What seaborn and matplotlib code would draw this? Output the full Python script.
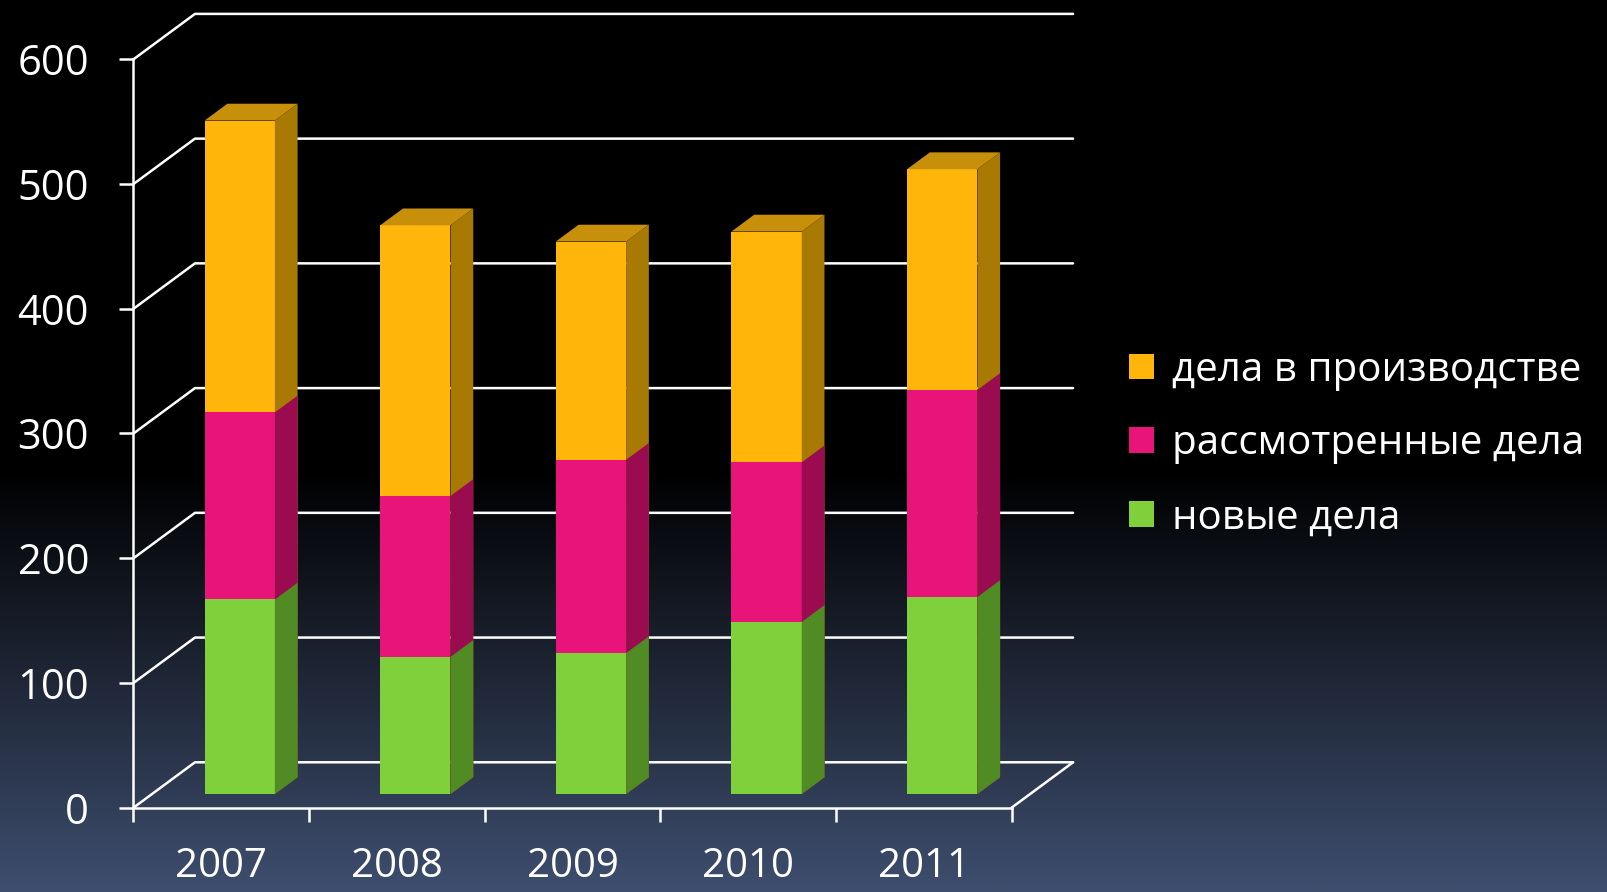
import numpy as np
import pandas as pd
import matplotlib.pyplot as plt
import seaborn as sns
from matplotlib.patches import Polygon, Patch

# Data
years = ["2007", "2008", "2009", "2010", "2011"]
new_cases = [156, 110, 113, 138, 158]
reviewed_cases = [150, 129, 155, 128, 166]
pending_cases = [234, 217, 175, 185, 177]
series_names = ["новые дела", "рассмотренные дела", "дела в производстве"]
y_ticks = [0, 100, 200, 300, 400, 500, 600]

front_colors = ["#7FD03A", "#E9147A", "#FFB50A"]
side_colors = ["#508B24", "#9A0C4F", "#A97A03"]
top_color = "#C8900A"

sns.set_style("ticks")
plt.rcParams["font.family"] = ["Open Sans", "DejaVu Sans"]

fig = plt.figure(figsize=(16.07, 8.92), dpi=100)

# Gradient background: black on top, slate blue at the bottom
bg = fig.add_axes([0, 0, 1, 1], zorder=-10)
rows = np.linspace(0, 1, 500)
t = np.clip((rows - 0.527) / (1 - 0.527), 0, 1)
bottom_rgb = np.array([62, 78, 110]) / 255
grad = t[:, None] * bottom_rgb[None, :]
bg.imshow(grad[:, None, :], aspect="auto")
bg.axis("off")

ax = fig.add_axes([0.08307, 0.09451, 0.54642, 0.83901])
ax.set_facecolor("none")

# Oblique depth of the 3D box (data units) and where the bars sit in it
DX, DY = 0.350, 36.4
bar_front = 0.30
bar_depth = 0.37

df = pd.DataFrame({
    "year": years,
    "new": new_cases,
    "reviewed": reviewed_cases,
    "pending": pending_cases,
})
df["lvl1"] = df["new"]
df["lvl2"] = df["lvl1"] + df["reviewed"]
df["lvl3"] = df["lvl2"] + df["pending"]

# Draw tallest stack first, lower layers are painted over it
layers = [("lvl3", 2), ("lvl2", 1), ("lvl1", 0)]
for k, (col, ci) in enumerate(layers):
    z = 3 + 2 * k
    sns.barplot(data=df, x="year", y=col, color=front_colors[ci], saturation=1,
                width=0.4, errorbar=None, linewidth=0, ax=ax, zorder=z)
    for rect in ax.containers[-1]:
        rect.set_x(rect.get_x() + bar_front * DX)
        rect.set_y(rect.get_y() + bar_front * DY)
        rect.set_clip_on(False)
        x0, y0 = rect.get_x(), rect.get_y()
        w, h = rect.get_width(), rect.get_height()
        sx, sy = bar_depth * DX, bar_depth * DY
        side = Polygon([(x0 + w, y0), (x0 + w + sx, y0 + sy),
                        (x0 + w + sx, y0 + h + sy), (x0 + w, y0 + h)],
                       closed=True, facecolor=side_colors[ci], edgecolor="none",
                       zorder=z + 1, clip_on=False)
        ax.add_patch(side)
        if k == 0:
            top = Polygon([(x0, y0 + h), (x0 + w, y0 + h),
                           (x0 + w + sx, y0 + h + sy), (x0 + sx, y0 + h + sy)],
                          closed=True, facecolor=top_color, edgecolor="none",
                          zorder=z + 1, clip_on=False)
            ax.add_patch(top)

n = len(years)
x_left, x_right = -0.5, n - 0.5

# Back wall / left wall gridlines
for v in y_ticks:
    ax.plot([x_left, x_left + DX, x_right + DX], [v, v + DY, v + DY],
            color="white", lw=1.8, clip_on=False, zorder=1)
# right edge of the floor
ax.plot([x_right, x_right + DX], [0, DY], color="white", lw=1.8,
        clip_on=False, zorder=1)

ax.set_xlim(x_left, x_right)
ax.set_ylim(0, 600)
ax.set_yticks(y_ticks)
ax.set_xticks(range(n))
ax.set_xticklabels(years)
ax.set_xticks(np.arange(x_left, x_right + 0.01, 1), minor=True)
ax.set(xlabel="", ylabel="")

for s in ["top", "right"]:
    ax.spines[s].set_visible(False)
for s in ["left", "bottom"]:
    ax.spines[s].set_color("white")
    ax.spines[s].set_linewidth(1.8)

ax.tick_params(axis="x", which="major", bottom=True, length=0, pad=28,
               labelsize=29, labelcolor="white")
ax.tick_params(axis="x", which="minor", bottom=True, length=10, width=1.8,
               color="white")
ax.tick_params(axis="y", left=True, length=10, width=1.8, color="white",
               labelsize=30, labelcolor="white", pad=22)

# Legend
handles = [Patch(facecolor=front_colors[i], edgecolor="none") for i in [2, 1, 0]]
labels = [series_names[i] for i in [2, 1, 0]]
fig.legend(handles, labels, loc="center left", bbox_to_anchor=(0.7026, 0.502),
           frameon=False, fontsize=29, labelcolor="white", handlelength=0.62,
           handleheight=0.6, handletextpad=0.45, labelspacing=0.83,
           borderpad=0, borderaxespad=0)

plt.savefig("out.png", dpi=100)
